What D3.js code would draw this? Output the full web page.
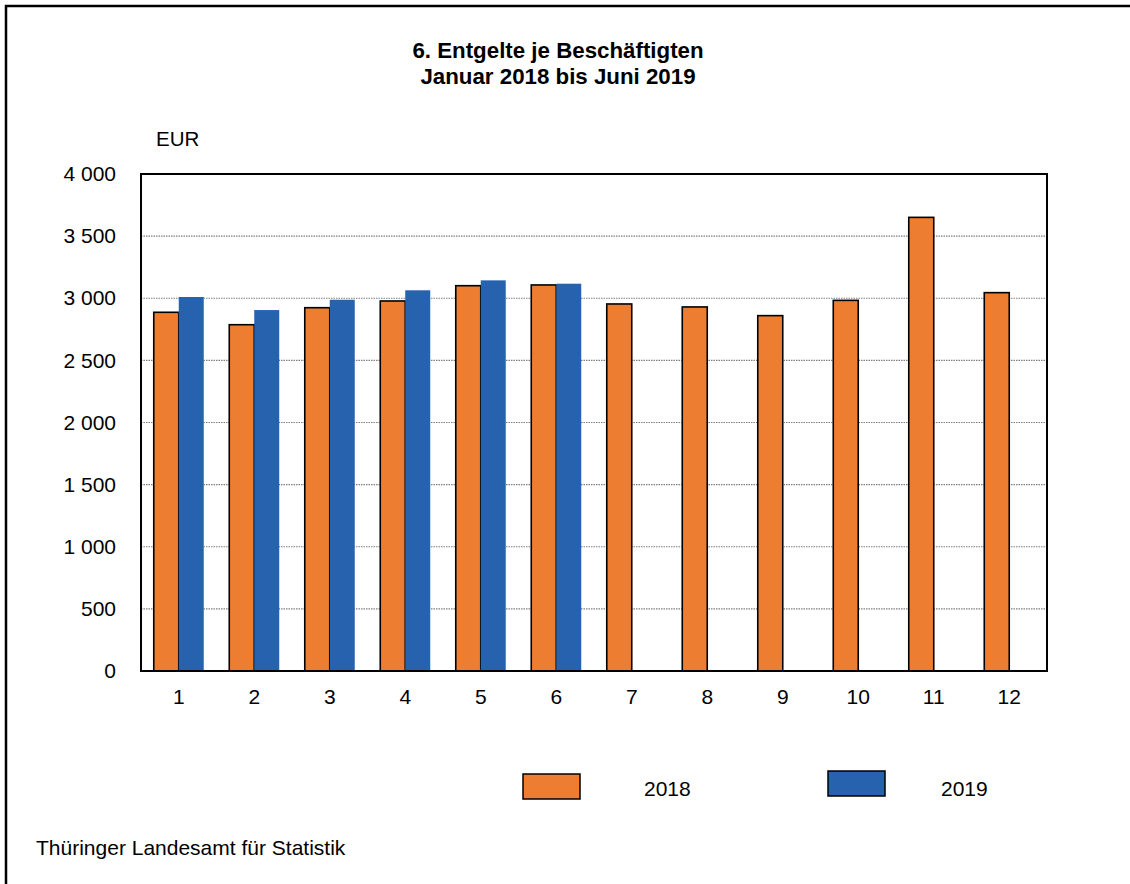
<!DOCTYPE html>
<html>
<head>
<meta charset="utf-8">
<script src="https://cdn.jsdelivr.net/npm/d3@7/dist/d3.min.js"></script>
<style>
  html, body { margin: 0; padding: 0; background: #fff; }
  svg { display: block; }
  text { font-family: "Liberation Sans", Arial, sans-serif; fill: #000; }
</style>
</head>
<body>
<svg id="chart" width="1130" height="884"></svg>
<script>
const months = ["1","2","3","4","5","6","7","8","9","10","11","12"];
const series = ["2018","2019"];
const values2018 = [2887, 2787, 2924, 2978, 3101, 3107, 2954, 2930, 2860, 2983, 3651, 3045];
const values2019 = [3010, 2905, 2988, 3064, 3144, 3117];
const yTicks = [0, 500, 1000, 1500, 2000, 2500, 3000, 3500, 4000];
const titleLines = ["6. Entgelte je Beschäftigten", "Januar 2018 bis Juni 2019"];
const colors = { "2018": "#ED7D31", "2019": "#2662AD" };

const svg = d3.select("#chart");
const plot = { left: 141, right: 1047, top: 174, bottom: 671 };
const FONT = '"Liberation Sans", Arial, sans-serif';

// outer frame (only left and top visible)
svg.append("rect").attr("x", 6).attr("y", 6).attr("width", 1300).attr("height", 1200)
  .attr("fill", "#fff").attr("stroke", "#000").attr("stroke-width", 2.5);

// title
svg.append("g").selectAll("text").data(titleLines).join("text")
  .attr("x", 558).attr("y", (d, i) => 58 + i * 25.5)
  .attr("text-anchor", "middle").attr("font-size", 22.3).attr("font-weight", "bold")
  .text(d => d);

// unit
svg.append("text").attr("x", 156).attr("y", 146).attr("font-size", 20.5).text("EUR");

const y = d3.scaleLinear().domain([0, 4000]).range([plot.bottom, plot.top]);
const x0 = d3.scaleBand().domain(months).range([plot.left, plot.right])
  .paddingInner(0.338).paddingOuter(0.169);
const x1 = d3.scaleBand().domain(series).range([0, x0.bandwidth()]);

// gridlines
svg.append("g").selectAll("line").data(yTicks.filter(t => t > 0 && t < 4000)).join("line")
  .attr("x1", plot.left).attr("x2", plot.right)
  .attr("y1", d => y(d)).attr("y2", d => y(d))
  .attr("stroke", "#7f7f7f").attr("stroke-width", 1.2).attr("stroke-dasharray", "1.5,1");

// y axis labels
const yAxis = d3.axisLeft(y).tickValues(yTicks).tickSize(0).tickPadding(0)
  .tickFormat(d => d3.format(",")(d).replace(/,/g, " "));
const gy = svg.append("g").attr("transform", `translate(116,0)`).call(yAxis);
gy.select(".domain").remove();
gy.selectAll("text").attr("font-size", 21).attr("font-family", FONT).attr("fill", "#000");

// x axis labels
const xAxis = d3.axisBottom(x0).tickSize(0).tickPadding(0);
const gx = svg.append("g").attr("transform", `translate(0,${plot.bottom + 18})`).call(xAxis);
gx.select(".domain").remove();
gx.selectAll("text").attr("font-size", 21).attr("font-family", FONT).attr("fill", "#000");

// bars
const data = months.map((m, i) => ({
  month: m,
  vals: [
    { s: "2018", v: values2018[i] },
    { s: "2019", v: values2019[i] }
  ].filter(d => d.v != null)
}));

const groups = svg.append("g").selectAll("g").data(data).join("g")
  .attr("transform", d => `translate(${x0(d.month)},0)`);

groups.selectAll("rect").data(d => d.vals).join("rect")
  .attr("x", d => x1(d.s))
  .attr("y", d => y(d.v))
  .attr("width", x1.bandwidth())
  .attr("height", d => y(0) - y(d.v))
  .attr("fill", d => colors[d.s])
  .attr("stroke", d => d.s === "2018" ? "#000" : "none")
  .attr("stroke-width", 1.6);

// plot frame
svg.append("rect").attr("x", plot.left).attr("y", plot.top)
  .attr("width", plot.right - plot.left).attr("height", plot.bottom - plot.top)
  .attr("fill", "none").attr("stroke", "#000").attr("stroke-width", 2);

// legend
const legend = [
  { s: "2018", rx: 523, ry: 774, tx: 644 },
  { s: "2019", rx: 828, ry: 771, tx: 941 }
];
const lg = svg.append("g").selectAll("g").data(legend).join("g");
lg.append("rect").attr("x", d => d.rx).attr("y", d => d.ry).attr("width", 57).attr("height", 25)
  .attr("fill", d => colors[d.s]).attr("stroke", "#000").attr("stroke-width", 1.5);
lg.append("text").attr("x", d => d.tx).attr("y", 796).attr("font-size", 21).text(d => d.s);

// footer
svg.append("text").attr("x", 36).attr("y", 855).attr("font-size", 21).text("Thüringer Landesamt für Statistik");
</script>
</body>
</html>
